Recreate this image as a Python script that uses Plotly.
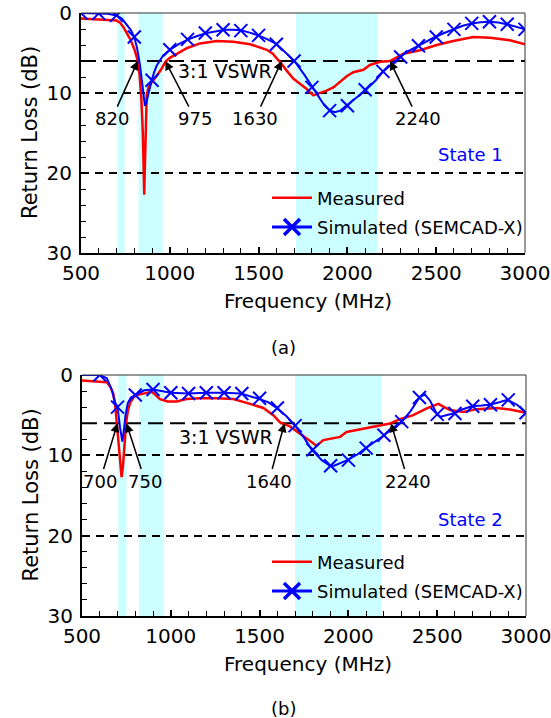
import plotly.graph_objects as go

# ---------------- data: State 1 (a) ----------------
meas1_f = [500, 550, 600, 650, 700, 720, 740, 760, 780, 800, 810, 820, 830, 840, 848, 853, 856,
           860, 864, 870, 880, 900, 925, 950, 975, 1000, 1040, 1095, 1170, 1264, 1358, 1452,
           1546, 1580, 1611, 1620, 1658, 1695, 1733, 1771, 1808, 1836, 1883, 1921, 1958, 1996,
           2033, 2090, 2127, 2184, 2240, 2270, 2315, 2409, 2503, 2596, 2709, 2803, 2915, 3000]
meas1_db = [0.7, 0.75, 0.8, 0.85, 0.95, 1.2, 1.8, 2.6, 3.4, 4.5, 5.2, 6.0, 7.8, 10.8, 15.0, 20.0, 22.7,
            19.0, 14.0, 10.2, 9.3, 8.6, 7.9, 7.1, 6.1, 5.6, 5.1, 4.4, 3.8, 3.5, 3.6, 3.9,
            4.6, 5.1, 5.9, 6.1, 7.2, 8.2, 8.85, 9.5, 10.3, 10.1, 9.7, 9.3, 8.6, 7.9,
            7.4, 7.1, 6.5, 6.1, 6.0, 5.6, 5.1, 4.65, 4.0, 3.5, 3.0, 3.1, 3.4, 3.9]

sim1_f = [500, 550, 600, 650, 700, 730, 760, 780, 800, 815, 832, 845, 852, 860, 868, 879, 890, 898,
          912, 926, 945, 963, 1000, 1050, 1104, 1150, 1208, 1260, 1311, 1360, 1405, 1450, 1498,
          1550, 1602, 1650, 1705, 1760, 1808, 1860, 1902, 1930, 1960, 1996, 2050, 2109, 2160,
          2202, 2250, 2296, 2340, 2390, 2440, 2493, 2545, 2596, 2650, 2700, 2750, 2799, 2850,
          2897, 2950, 3000]
sim1_db = [0.0, 0.0, 0.05, 0.1, 0.3, 0.7, 1.5, 2.1, 3.0, 4.3, 6.5, 8.8, 10.3, 11.6, 11.2, 10.2, 9.0, 8.4,
           7.4, 6.6, 5.9, 5.3, 4.6, 3.9, 3.3, 2.9, 2.5, 2.25, 2.1, 2.1, 2.2, 2.45, 2.8,
           3.3, 3.9, 4.9, 6.1, 7.8, 9.5, 11.2, 12.2, 12.4, 12.2, 11.6, 10.6, 9.5, 8.4,
           7.3, 6.4, 5.5, 4.8, 4.2, 3.6, 3.0, 2.5, 2.05, 1.6, 1.3, 1.15, 1.1, 1.2,
           1.4, 1.7, 2.05]

mark1_f = [500, 600, 700, 800, 900, 1000, 1100, 1200, 1300, 1400, 1500, 1600, 1700, 1800, 1900,
           2000, 2100, 2200, 2300, 2400, 2500, 2600, 2700, 2800, 2900, 3000]
mark1_db = [0.0, 0.05, 0.3, 3.0, 8.4, 4.6, 3.3, 2.5, 2.1, 2.2, 2.8, 3.9, 6.0, 9.3, 12.2,
            11.6, 9.6, 7.3, 5.5, 4.1, 3.0, 2.05, 1.3, 1.1, 1.4, 2.05]

band1_start = [704, 824, 1710]
band1_end = [746, 960, 2170]

ann1_freq = [820, 975, 1630, 2240]
ann1_text = ["820", "975", "1630", "2240"]
ann1_label_f = [674, 1142, 1480, 2397]

# ---------------- data: State 2 (b) ----------------
meas2_f = [500, 550, 600, 640, 660, 676, 688, 697, 706, 714, 723, 730, 736, 742, 748, 758, 770, 790,
           808, 850, 892, 915, 939, 982, 1033, 1089, 1164, 1258, 1352, 1446, 1521, 1577, 1615,
           1671, 1727, 1784, 1821, 1859, 1915, 1953, 1990, 2047, 2103, 2159, 2234,
           2290, 2365, 2441, 2480, 2506, 2540, 2572, 2647, 2722, 2835, 2910, 3000]
meas2_db = [0.7, 0.75, 0.8, 0.9, 1.5, 2.3, 4.0, 6.0, 8.5, 10.6, 12.7, 11.5, 10.2, 8.0, 6.0, 4.5, 3.5, 2.8,
            2.5, 2.3, 2.1, 2.5, 3.0, 3.3, 3.3, 3.0, 2.9, 2.9, 3.0, 3.6, 4.1, 5.0, 5.9,
            6.4, 7.3, 8.1, 8.8, 8.1, 7.9, 7.7, 7.1, 6.85, 6.55, 6.3, 6.05,
            5.5, 5.0, 4.15, 3.8, 3.6, 4.0, 4.35, 4.6, 4.25, 4.1, 4.3, 4.7]

sim2_f = [500, 550, 600, 640, 667, 686, 700, 714, 727, 736, 745, 758, 775, 800, 850, 901, 950, 999,
          1099, 1198, 1296, 1394, 1487, 1550, 1596, 1650, 1700, 1750, 1793, 1850, 1896, 1920,
          1994, 2050, 2097, 2150, 2202, 2250, 2300, 2350, 2400, 2430, 2460, 2500, 2520, 2550,
          2591, 2640, 2694, 2750, 2793, 2850, 2895, 2950, 3000]
sim2_db = [0.0, 0.0, 0.0, 0.4, 1.8, 3.4, 4.0, 6.5, 8.3, 6.8, 5.0, 3.5, 2.8, 2.5, 1.9, 1.8, 2.0, 2.2,
           2.3, 2.2, 2.2, 2.3, 2.9, 3.4, 4.1, 5.1, 6.3, 7.8, 9.3, 10.6, 11.3, 11.3,
           10.6, 9.9, 9.1, 8.3, 7.5, 6.6, 5.8, 4.5, 2.8, 2.4, 3.2, 4.9, 5.2, 5.0,
           4.8, 4.3, 3.9, 3.8, 3.7, 3.4, 3.1, 3.7, 4.7]

mark2_f = [600, 700, 800, 900, 1000, 1100, 1200, 1300, 1400, 1500, 1600, 1700, 1800, 1900,
           2000, 2100, 2200, 2300, 2400, 2500, 2600, 2700, 2800, 2900, 3000]
mark2_db = [0.0, 4.0, 2.5, 1.8, 2.2, 2.3, 2.2, 2.2, 2.3, 2.9, 4.1, 6.3, 9.3, 11.3,
            10.6, 9.1, 7.5, 5.8, 2.8, 4.9, 4.8, 3.9, 3.7, 3.1, 4.7]

band2_start = [704, 821, 1700]
band2_end = [751, 960, 2185]

ann2_freq = [700, 750, 1640, 2240]
ann2_text = ["700", "750", "1640", "2240"]
ann2_label_f = [601, 855, 1553, 2336]

vswr_db = 6.0
ann_label_db = 13.2
x_ticks = [500, 1000, 1500, 2000, 2500, 3000]
y_ticks = [0, 10, 20, 30]

# ---------------- figure ----------------
OFF = 0                      # page margin is removed by the post script below
W, H = 551, 718
FONT = "DejaVu Sans"
RED = "#ff0000"
BLUE = "#0000ff"
CYAN = "#ccffff"


def pxx(px):
    return (px - OFF) / W


def pxy(py):
    return 1 - (py - OFF) / H


fig = go.Figure()

panels = [
    dict(xa="x", ya="y", leg="legend", mf=meas1_f, md=meas1_db, sf=sim1_f, sd=sim1_db,
         kf=mark1_f, kd=mark1_db, bs=band1_start, be=band1_end,
         af=ann1_freq, at=ann1_text, al=ann1_label_f, state="State 1",
         px=(81, 525), py=(13, 253), tag="(a)", tagy=347, vsx=1310, vsy=7.3, sty=155),
    dict(xa="x2", ya="y2", leg="legend2", mf=meas2_f, md=meas2_db, sf=sim2_f, sd=sim2_db,
         kf=mark2_f, kd=mark2_db, bs=band2_start, be=band2_end,
         af=ann2_freq, at=ann2_text, al=ann2_label_f, state="State 2",
         px=(82, 526), py=(375, 616), tag="(b)", tagy=708, vsx=1310, vsy=7.7, sty=519),
]

shapes = []
annotations = []
for p in panels:
    xa, ya = p["xa"], p["ya"]
    fig.add_trace(go.Scatter(x=p["mf"], y=p["md"], mode="lines", name="Measured",
                             line=dict(color=RED, width=2.5), xaxis=xa, yaxis=ya,
                             legend=p["leg"], legendgroup=p["leg"] + "m"))
    fig.add_trace(go.Scatter(x=p["sf"], y=p["sd"], mode="lines", showlegend=False,
                             line=dict(color=BLUE, width=2), xaxis=xa, yaxis=ya))
    fig.add_trace(go.Scatter(x=p["kf"], y=p["kd"], mode="markers", showlegend=False,
                             marker=dict(symbol="x-thin", size=13, color=BLUE,
                                         line=dict(color=BLUE, width=2)),
                             xaxis=xa, yaxis=ya))
    fig.add_trace(go.Scatter(x=[None], y=[None], mode="lines+markers",
                             name="Simulated (SEMCAD-X)",
                             line=dict(color=BLUE, width=3),
                             marker=dict(symbol="x-thin", size=16, color=BLUE,
                                         line=dict(color=BLUE, width=3.5)),
                             xaxis=xa, yaxis=ya, legend=p["leg"], legendgroup=p["leg"] + "s"))

    for s, e in zip(p["bs"], p["be"]):
        shapes.append(dict(type="rect", xref=xa, yref=ya + " domain",
                           x0=s, x1=e, y0=0, y1=1, fillcolor=CYAN, line=dict(width=0),
                           layer="below"))
    shapes.append(dict(type="line", xref=xa + " domain", yref=ya, x0=0, x1=1,
                       y0=vswr_db, y1=vswr_db, line=dict(color="black", width=2, dash="15px,7px"),
                       layer="below"))
    # thin top/right border
    shapes.append(dict(type="line", xref=xa + " domain", yref=ya + " domain", x0=0, x1=1,
                       y0=1, y1=1, line=dict(color="#333333", width=1)))
    shapes.append(dict(type="line", xref=xa + " domain", yref=ya + " domain", x0=1, x1=1,
                       y0=0, y1=1, line=dict(color="#333333", width=1)))

    for f, t, lf in zip(p["af"], p["at"], p["al"]):
        annotations.append(dict(x=f, y=vswr_db, xref=xa, yref=ya, ax=lf, ay=ann_label_db,
                                axref=xa, ayref=ya, text=t, showarrow=True, arrowhead=2,
                                arrowsize=1.2, arrowwidth=1.5, arrowcolor="black",
                                font=dict(family=FONT, size=18, color="black")))
    annotations.append(dict(x=p["vsx"], y=p["vsy"], xref=xa, yref=ya, text="3:1 VSWR",
                            showarrow=False, xanchor="center", yanchor="middle",
                            font=dict(family=FONT, size=19, color="black")))
    annotations.append(dict(x=pxx(505), y=pxy(p["sty"]), xref="paper", yref="paper",
                            xanchor="right", yanchor="middle", text=p["state"], showarrow=False,
                            font=dict(family=FONT, size=18, color=BLUE)))
    cy = (p["py"][0] + p["py"][1]) / 2
    annotations.append(dict(x=pxx(30), y=pxy(cy), xref="paper", yref="paper",
                            xanchor="center", yanchor="middle",
                            text="Return Loss (dB)", textangle=-90, showarrow=False,
                            font=dict(family=FONT, size=21, color="black")))
    annotations.append(dict(x=pxx(308), y=pxy(p["py"][1] + 48), xref="paper", yref="paper",
                            xanchor="center", yanchor="middle",
                            text="Frequency (MHz)", showarrow=False,
                            font=dict(family=FONT, size=20, color="black")))
    annotations.append(dict(x=pxx(283), y=pxy(p["tagy"]), xref="paper", yref="paper",
                            xanchor="center", yanchor="middle",
                            text=p["tag"], showarrow=False,
                            font=dict(family=FONT, size=18, color="black")))


def xaxis_cfg(px, anchor):
    return dict(domain=[pxx(px[0]), pxx(px[1])], range=[500, 3000], tickvals=x_ticks,
                ticks="inside", ticklen=6, tickwidth=1.5, tickcolor="black",
                minor=dict(dtick=100, ticks="inside", ticklen=5, tickwidth=1, tickcolor="black",
                           showgrid=False),
                showline=True, linecolor="black", linewidth=2, showgrid=False, zeroline=False,
                tickfont=dict(family=FONT, size=20, color="black"), anchor=anchor,
                ticklabelstandoff=1, automargin=False, ticklabeloverflow="allow")


def yaxis_cfg(py, anchor):
    return dict(domain=[pxy(py[1]), pxy(py[0])], range=[30, 0], tickvals=y_ticks,
                ticks="inside", ticklen=6, tickwidth=1.5, tickcolor="black",
                minor=dict(dtick=2, ticks="inside", ticklen=5, tickwidth=1, tickcolor="black",
                           showgrid=False),
                showline=True, linecolor="black", linewidth=2, showgrid=True,
                gridcolor="black", gridwidth=2, griddash="8px,6px", zeroline=False,
                tickfont=dict(family=FONT, size=20, color="black"), anchor=anchor,
                ticklabelstandoff=3, automargin=False, ticklabeloverflow="allow")


legend_common = dict(font=dict(family=FONT, size=18, color="black"), bgcolor="rgba(0,0,0,0)",
                     xanchor="left", yanchor="middle", itemwidth=40, tracegroupgap=3,
                     traceorder="grouped")

fig.update_layout(
    width=W, height=H, margin=dict(l=0, r=0, t=0, b=0, autoexpand=False),
    paper_bgcolor="white", plot_bgcolor="white",
    xaxis=xaxis_cfg((81, 525), "y"), yaxis=yaxis_cfg((13, 253), "x"),
    xaxis2=xaxis_cfg((82, 526), "y2"), yaxis2=yaxis_cfg((375, 616), "x2"),
    legend=dict(x=pxx(267), y=pxy(212.5), **legend_common),
    legend2=dict(x=pxx(267), y=pxy(576.5), **legend_common),
    shapes=shapes, annotations=annotations, font=dict(family=FONT),
)

fig.write_html("out.html", config={"displayModeBar": False},
               post_script="document.body.style.margin='0';document.body.style.overflow='hidden';")
